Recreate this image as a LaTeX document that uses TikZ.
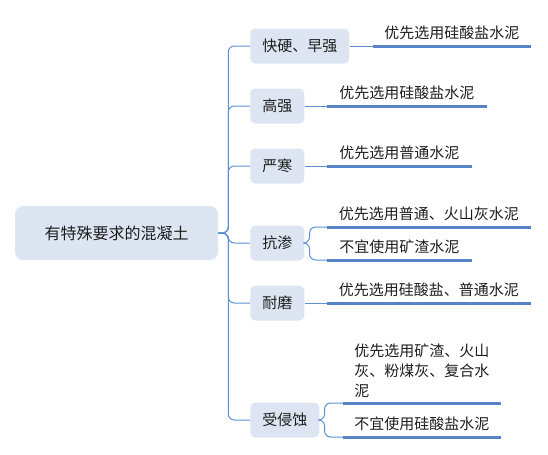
\documentclass[tikz,border=0pt]{standalone}
\usepackage{fontspec}
\usepackage{tikz}
\usetikzlibrary{calc}
\newfontfamily\cjk{Noto Sans CJK SC}
\definecolor{boxF}{RGB}{220,229,241}
\definecolor{lineB}{RGB}{93,143,214}
\definecolor{ulB}{RGB}{86,132,200}
\definecolor{txtK}{RGB}{30,30,30}
\tikzset{
  rootbox/.style={fill=boxF, rounded corners=6pt, minimum width=152.25pt, minimum height=40.5pt,
    text=txtK, font=\cjk\fontsize{12pt}{15pt}\selectfont},
  topic/.style={fill=boxF, rounded corners=3.75pt, inner xsep=9pt, minimum height=26.25pt, anchor=west,
    text=txtK, font=\cjk\fontsize{11.25pt}{15pt}\selectfont},
  leaf/.style={anchor=south west, inner xsep=0pt, inner ysep=3.75pt, minimum width=#1*0.75pt,
    text depth=0.2em, text=txtK, font=\cjk\fontsize{11.25pt}{15pt}\selectfont},
  conn/.style={draw=lineB, line width=0.75pt, rounded corners=4.5pt},
  uline/.style={draw=ulB, line width=2.25pt}
}
\begin{document}
\begin{tikzpicture}[x=0.75pt, y=-0.75pt]
\useasboundingbox (0,0) rectangle (548,454);
% ===== centre topic =====
\node[rootbox] (root) at (116.5,233) {有特殊要求的混凝土};
% ===== first level =====
\node[topic] (kuai) at (250,46)  {快硬、早强};
\node[topic] (gao)  at (250,106) {高强};
\node[topic] (yan)  at (250,166) {严寒};
\node[topic] (kang) at (250,243) {抗渗};
\node[topic] (nai)  at (250,303) {耐磨};
\node[topic] (shou) at (250,420) {受侵蚀};
% ===== leaves (text over a thick line) =====
\node[leaf=157] (lkuai) at (373,46)  {优先选用硅酸盐水泥};
\node[leaf=159] (lgao)  at (327,106) {优先选用硅酸盐水泥};
\node[leaf=144] (lyan)  at (327,166) {优先选用普通水泥};
\node[leaf=203] (lkangA) at (327,227) {优先选用普通、火山灰水泥};
\node[leaf=144] (lkangB) at (327,260) {不宜使用矿渣水泥};
\node[leaf=203] (lnai)  at (327,303) {优先选用硅酸盐、普通水泥};
\node[leaf=157, inner ysep=3pt] (lshouA) at (343,403)
  {\parbox[b]{101.25pt}{\raggedright 优先选用矿渣、火山\\灰、粉煤灰、复合水\\泥}};
\node[leaf=157] (lshouB) at (343,437) {不宜使用硅酸盐水泥};
\foreach \n in {lkuai,lgao,lyan,lkangA,lkangB,lnai,lshouA,lshouB}
  \draw[uline] (\n.south west) -- (\n.south east);
% ===== connectors =====
\foreach \n in {kuai,gao,yan,kang,nai,shou}
  \draw[conn] (root.east) -- ++(10,0) |- (\n.west);
\draw[conn] (kuai.east) -- (lkuai.south west);
\draw[conn] (gao.east) -- (lgao.south west);
\draw[conn] (yan.east) -- (lyan.south west);
\draw[conn] (nai.east) -- (lnai.south west);
\draw[conn] (kang.east) -- ++(5,0) |- (lkangA.south west);
\draw[conn] (kang.east) -- ++(5,0) |- (lkangB.south west);
\draw[conn] (shou.east) -- ++(5,0) |- (lshouA.south west);
\draw[conn] (shou.east) -- ++(5,0) |- (lshouB.south west);
\end{tikzpicture}
\end{document}
